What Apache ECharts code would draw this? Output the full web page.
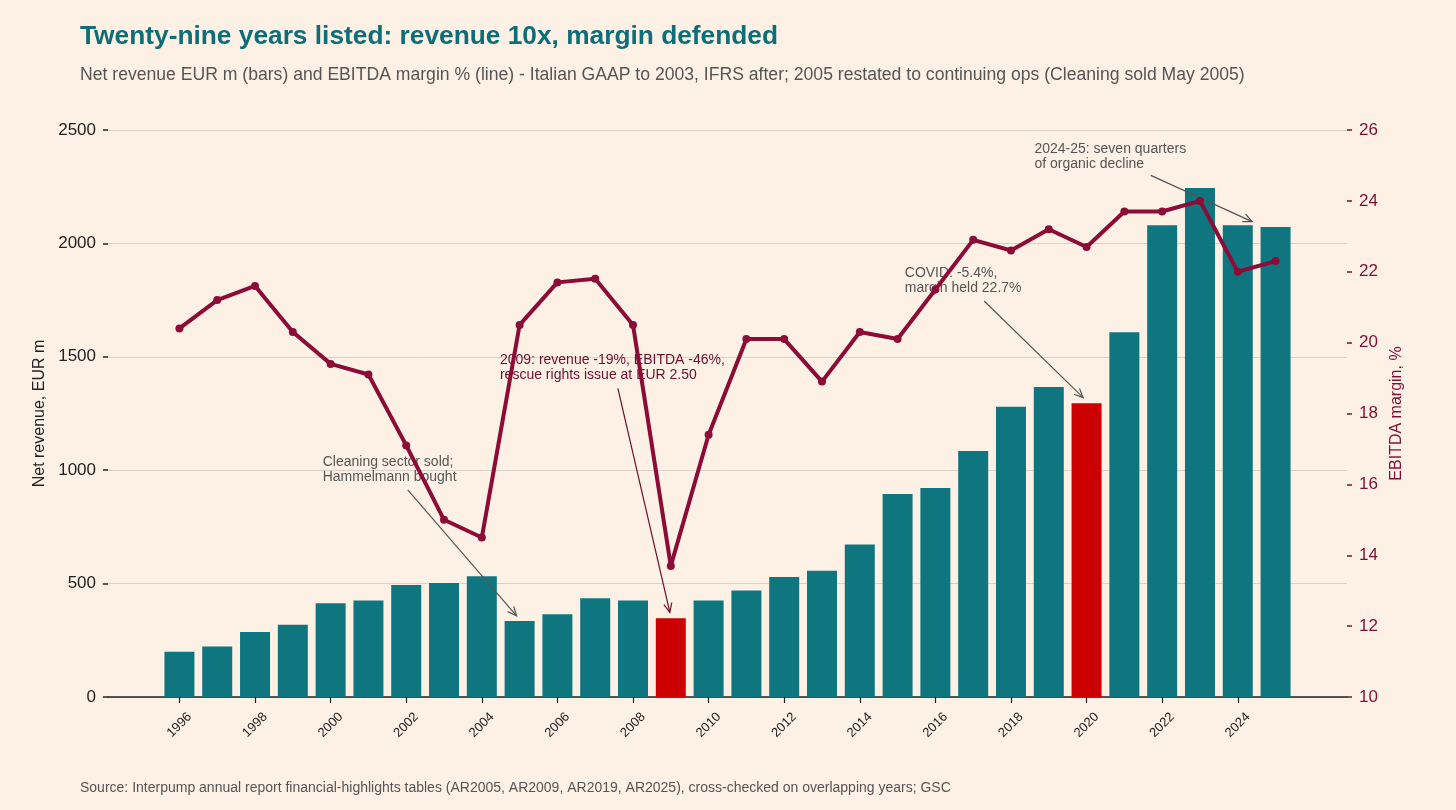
<!DOCTYPE html>
<html><head><meta charset="utf-8">
<script src="https://cdn.jsdelivr.net/npm/echarts@6/dist/echarts.min.js"></script>
<style>html,body{margin:0;padding:0;background:#FDF1E6}#c{width:1456px;height:810px}</style>
</head><body><div id="c"></div>
<script>
const years = [1996,1997,1998,1999,2000,2001,2002,2003,2004,2005,2006,2007,2008,2009,2010,2011,2012,2013,2014,2015,2016,2017,2018,2019,2020,2021,2022,2023,2024,2025];
const revenue = [200,223,287,319,413,426,494,503,532,335,365,435,426,347,426,470,529,557,672,895,921,1085,1280,1367,1295,1608,2080,2244,2080,2072];
const margin = [20.4,21.2,21.6,20.3,19.4,19.1,17.1,15.0,14.5,20.5,21.7,21.8,20.5,13.7,17.4,20.1,20.1,18.9,20.3,20.1,21.5,22.9,22.6,23.2,22.7,23.7,23.7,24.0,22.0,22.3];
const highlightYears = [2009, 2020];
const xTickYears = [1996,1998,2000,2002,2004,2006,2008,2010,2012,2014,2016,2018,2020,2022,2024];

const titleText = 'Twenty-nine years listed: revenue 10x, margin defended';
const subtitleText = 'Net revenue EUR m (bars) and EBITDA margin % (line) - Italian GAAP to 2003, IFRS after; 2005 restated to continuing ops (Cleaning sold May 2005)';
const sourceText = 'Source: Interpump annual report financial-highlights tables (AR2005, AR2009, AR2019, AR2025), cross-checked on overlapping years; GSC';

// annotations in data coords (year, revenue axis)
const annotations = [
  {text:'Cleaning sector sold;\nHammelmann bought', at:[1999.79,1069], from:[2002.04,913], to:[2004.92,358], color:'#555555'},
  {text:'2009: revenue -19%, EBITDA -46%,\nrescue rights issue at EUR 2.50', at:[2004.48,1519], from:[2007.60,1361], to:[2008.975,373], color:'#6B0F2E'},
  {text:'COVID: -5.4%,\nmargin held 22.7%', at:[2015.19,1901], from:[2017.29,1746], to:[2019.91,1320], color:'#555555'},
  {text:'2024-25: seven quarters\nof organic decline', at:[2018.62,2449], from:[2021.70,2300], to:[2024.38,2096], color:'#555555'}
];

const FONT = '"Liberation Sans", Arial, sans-serif';
const TEAL = '#0F7680', RED = '#CC0000', MAROON = '#8C0C38', BG = '#FDF1E6', AXMAROON = '#7E0E35';

const chart = echarts.init(document.getElementById('c'));
const barData = years.map((y,i)=>({value:[y,revenue[i]], itemStyle: highlightYears.includes(y)?{color:RED}:undefined}));
const lineData = years.map((y,i)=>[y, margin[i]]);

chart.setOption({
  animation:false,
  backgroundColor: BG,
  textStyle:{fontFamily:FONT},
  grid:{left:108, right:109, top:130, bottom:113},
  xAxis:{
    type:'value', min:1994.11, max:2026.89,
    axisLine:{show:true, onZero:false, lineStyle:{color:'#222', width:1.5}},
    axisTick:{show:true, length:6, lineStyle:{color:'#222', width:1.2}, customValues:xTickYears},
    axisLabel:{rotate:45, fontSize:13, color:'#222', margin:28, align:'center', verticalAlign:'middle', customValues:xTickYears, formatter:v=>String(v)},
    splitLine:{show:false}
  },
  yAxis:[
    {type:'value', min:0, max:2500, interval:500, position:'left',
     name:'Net revenue, EUR m', nameLocation:'middle', nameGap:52, nameRotate:90,
     nameTextStyle:{fontSize:16, color:'#222'},
     axisLine:{show:false}, axisTick:{show:true, length:5, lineStyle:{color:'#222', width:1.5}},
     axisLabel:{fontSize:17, color:'#222', margin:12, formatter:v=>String(v)},
     splitLine:{show:true, lineStyle:{color:'#D9D1C9', width:1}}},
    {type:'value', min:10, max:26, interval:2, position:'right',
     name:'EBITDA margin, %', nameLocation:'middle', nameGap:38, nameRotate:90,
     nameTextStyle:{fontSize:16, color:AXMAROON},
     axisLine:{show:false}, axisTick:{show:true, length:5, lineStyle:{color:AXMAROON, width:1.5}},
     axisLabel:{fontSize:17, color:AXMAROON, margin:12},
     splitLine:{show:false}}
  ],
  series:[
    {type:'bar', data:barData, barWidth:30, itemStyle:{color:TEAL}, z:2},
    {type:'line', yAxisIndex:1, data:lineData, z:5, symbol:'circle', symbolSize:8,
     lineStyle:{color:MAROON, width:4}, itemStyle:{color:MAROON}}
  ]
});

const g = [
  {type:'text', left:80, top:24, z:10, style:{text:titleText, font:'bold 26.3px '+FONT, fill:'#0D6E77'}},
  {type:'text', left:80, top:66, z:10, style:{text:subtitleText, font:'17.6px '+FONT, fill:'#555555'}},
  {type:'text', left:80, top:781, z:10, style:{text:sourceText, font:'14px '+FONT, fill:'#555555'}}
];
annotations.forEach(a=>{
  const p = chart.convertToPixel({xAxisIndex:0, yAxisIndex:0}, a.at);
  const s = chart.convertToPixel({xAxisIndex:0, yAxisIndex:0}, a.from);
  const t = chart.convertToPixel({xAxisIndex:0, yAxisIndex:0}, a.to);
  g.push({type:'text', x:p[0], y:p[1], z:1, style:{text:a.text, font:'14px '+FONT, fill:a.color, lineHeight:15, verticalAlign:'top'}});
  const dx=t[0]-s[0], dy=t[1]-s[1], L=Math.hypot(dx,dy), ux=dx/L, uy=dy/L, nx=-uy, ny=ux;
  const hl=9, hw=4;
  g.push({type:'line', z:3, shape:{x1:s[0], y1:s[1], x2:t[0], y2:t[1]}, style:{stroke:a.color, lineWidth:1.2}});
  g.push({type:'polyline', z:3, shape:{points:[[t[0]-hl*ux+hw*nx, t[1]-hl*uy+hw*ny],[t[0],t[1]],[t[0]-hl*ux-hw*nx, t[1]-hl*uy-hw*ny]]}, style:{stroke:a.color, lineWidth:1.2, fill:null}});
});
chart.setOption({graphic:{elements:g}});
</script></body></html>
